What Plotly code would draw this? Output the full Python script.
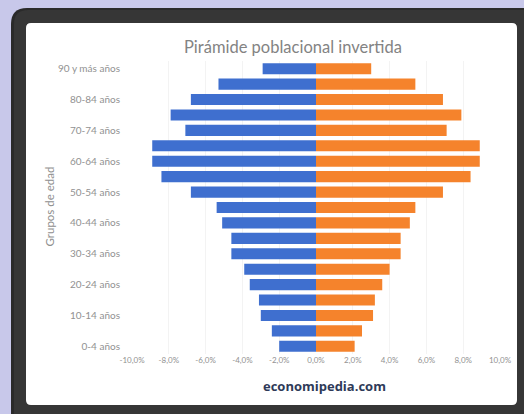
import plotly.graph_objects as go

W, H = 524, 414

categories = ["0-4 años", "5-9 años", "10-14 años", "15-19 años", "20-24 años",
              "25-29 años", "30-34 años", "35-39 años", "40-44 años", "45-49 años",
              "50-54 años", "55-59 años", "60-64 años", "65-69 años", "70-74 años",
              "75-79 años", "80-84 años", "85-89 años", "90 y más años"]
hombres = [2.0, 2.4, 3.0, 3.1, 3.6, 3.9, 4.6, 4.6, 5.1, 5.4,
           6.8, 8.4, 8.9, 8.9, 7.1, 7.9, 6.8, 5.3, 2.9]
mujeres = [2.1, 2.5, 3.1, 3.2, 3.6, 4.0, 4.6, 4.6, 5.1, 5.4,
           6.9, 8.4, 8.9, 8.9, 7.1, 7.9, 6.9, 5.4, 3.0]
shown_labels = ["0-4 años", "10-14 años", "20-24 años", "30-34 años", "40-44 años",
                "50-54 años", "60-64 años", "70-74 años", "80-84 años", "90 y más años"]
x_ticks = [-10, -8, -6, -4, -2, 0, 2, 4, 6, 8, 10]
x_ticktext = ["-10,0%", "-8,0%", "-6,0%", "-4,0%", "-2,0%", "0,0%",
              "2,0%", "4,0%", "6,0%", "8,0%", "10,0%"]

fig = go.Figure()
fig.add_trace(go.Bar(y=categories, x=[-v for v in hombres], orientation="h",
                     marker=dict(color="#3f6fcf", line=dict(width=0)), name="Hombres"))
fig.add_trace(go.Bar(y=categories, x=mujeres, orientation="h",
                     marker=dict(color="#f5832c", line=dict(width=0)), name="Mujeres"))


def px(x):
    return x / W


def py(y):
    return 1 - y / H


def rrect(x0, y0, x1, y1, r):
    rx, ry = r / W, r / H
    X0, X1 = px(x0), px(x1)
    Y0, Y1 = py(y0), py(y1)  # Y0 top, Y1 bottom
    return (f"M {X0+rx},{Y0} L {X1-rx},{Y0} Q {X1},{Y0} {X1},{Y0-ry} "
            f"L {X1},{Y1+ry} Q {X1},{Y1} {X1-rx},{Y1} L {X0+rx},{Y1} "
            f"Q {X0},{Y1} {X0},{Y1+ry} L {X0},{Y0-ry} Q {X0},{Y0} {X0+rx},{Y0} Z")


shapes = [
    dict(type="path", xref="paper", yref="paper", path=rrect(11, 8, 540, 440, 16),
         fillcolor="#2a2a2a", line=dict(width=0), layer="below"),
    dict(type="path", xref="paper", yref="paper", path=rrect(14, 10, 540, 440, 14),
         fillcolor="#363636", line=dict(width=0), layer="below"),
    dict(type="path", xref="paper", yref="paper", path=rrect(26, 23, 517, 405, 5),
         fillcolor="#ffffff", line=dict(width=0), layer="below"),
]

fig.update_layout(
    width=W, height=H,
    margin=dict(l=0, r=0, t=0, b=0),
    paper_bgcolor="#c8c8ea",
    plot_bgcolor="rgba(0,0,0,0)",
    barmode="overlay",
    bargap=0.28,
    showlegend=False,
    shapes=shapes,
    font=dict(family="Lato, Noto Sans, sans-serif", color="#7f7f7f"),
    xaxis=dict(domain=[px(132), px(500)], range=[-10, 10], automargin=False,
               tickvals=x_ticks, ticktext=x_ticktext,
               tickfont=dict(size=8, color="#919191"),
               showgrid=True, gridcolor="#f3f3f3", gridwidth=1,
               zeroline=True, zerolinecolor="rgba(255,255,255,0.85)", zerolinewidth=1.5,
               layer="above traces",
               showline=False, ticks="", fixedrange=True),
    yaxis=dict(domain=[py(354), py(61)], type="category", automargin=False,
               categoryorder="array", categoryarray=categories,
               tickvals=shown_labels, ticktext=shown_labels,
               tickfont=dict(size=10, color="#919191"),
               ticklabelstandoff=11, fixedrange=True,
               showgrid=False, zeroline=False, showline=False, ticks=""),
    annotations=[
        dict(text="Pirámide poblacional invertida", x=px(293), y=py(35),
             xref="paper", yref="paper", showarrow=False,
             font=dict(size=16.5, color="#838383", family="Lato, Noto Sans, sans-serif")),
        dict(text="Grupos de edad", x=px(40), y=py(207), textangle=-90,
             xref="paper", yref="paper", showarrow=False,
             font=dict(size=11.5, color="#8f8f8f")),
        dict(text="<b>economipedia.com</b>", x=px(324), y=py(397),
             xref="paper", yref="paper", showarrow=False,
             font=dict(size=13, color="#2e3a58", family="Open Sans, sans-serif")),
    ],
)

fig.write_html("out.html", config={"displayModeBar": False},
               post_script="document.body.style.margin='0';")
